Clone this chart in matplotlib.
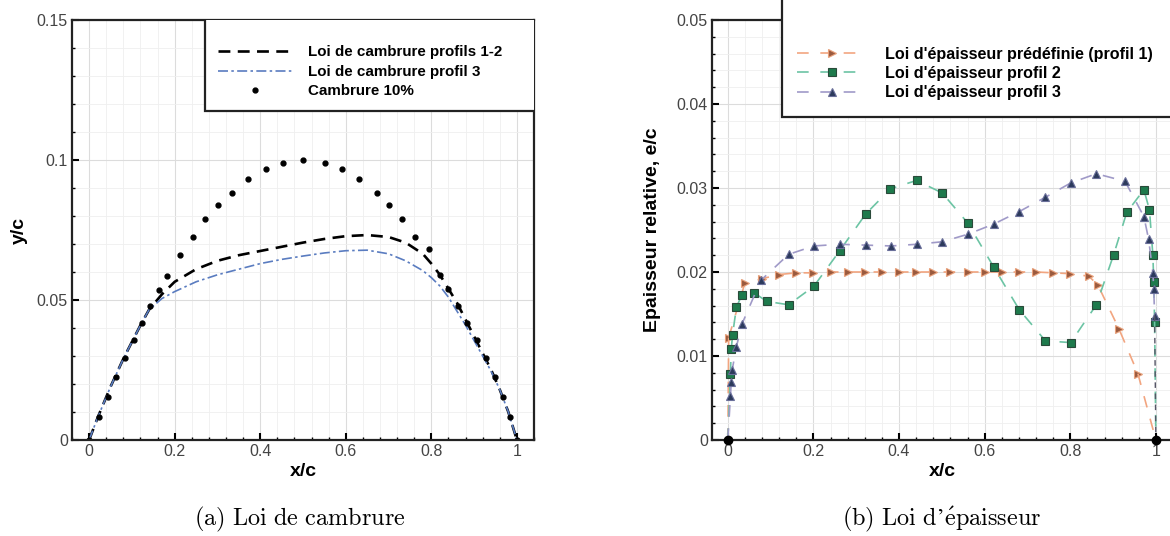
import matplotlib
matplotlib.use("Agg")
import matplotlib.pyplot as plt
from matplotlib.ticker import MultipleLocator, FuncFormatter
from matplotlib.patches import Rectangle

plt.rcParams['font.family'] = ['Liberation Sans', 'DejaVu Sans']
plt.rcParams['mathtext.fontset'] = 'cm'

# ---- (a) loi de cambrure ----
x_camb = [0, 0.02, 0.05, 0.08, 0.10, 0.12, 0.14, 0.17, 0.20, 0.25, 0.30, 0.35, 0.40, 0.45,
          0.50, 0.55, 0.60, 0.65, 0.70, 0.74, 0.78, 0.80, 0.82, 0.84, 0.86, 0.88, 0.90,
          0.92, 0.94, 0.96, 0.98, 1.0]
y_camb12 = [0, 0.008, 0.019, 0.029, 0.035, 0.041, 0.0465, 0.052, 0.0565, 0.061, 0.064, 0.066,
            0.0675, 0.069, 0.0705, 0.0718, 0.0728, 0.0732, 0.0725, 0.0705, 0.0665, 0.063,
            0.059, 0.054, 0.049, 0.043, 0.037, 0.031, 0.025, 0.018, 0.010, 0]
y_camb3 = [0, 0.008, 0.019, 0.029, 0.035, 0.041, 0.0465, 0.0505, 0.053, 0.0565, 0.059, 0.061,
           0.063, 0.0645, 0.0657, 0.0668, 0.0676, 0.0678, 0.0665, 0.064, 0.0605, 0.058,
           0.055, 0.051, 0.046, 0.041, 0.0355, 0.030, 0.0245, 0.018, 0.010, 0]

x_10 = [0, 0.022, 0.043, 0.063, 0.083, 0.104, 0.123, 0.143, 0.164, 0.183, 0.213, 0.242, 0.271,
        0.302, 0.333, 0.371, 0.413, 0.453, 0.501, 0.551, 0.591, 0.631, 0.672, 0.702, 0.732,
        0.762, 0.795, 0.820, 0.840, 0.863, 0.884, 0.906, 0.928, 0.949, 0.968, 0.984, 1.0]
y_10 = [0, 0.0081, 0.0155, 0.0226, 0.0294, 0.0357, 0.0419, 0.048, 0.0536, 0.0587, 0.0661,
        0.0726, 0.0788, 0.0839, 0.0883, 0.0931, 0.0967, 0.099, 0.100, 0.099, 0.0967, 0.0931,
        0.0883, 0.0839, 0.0788, 0.0726, 0.0681, 0.0589, 0.0538, 0.048, 0.0419, 0.0357,
        0.0294, 0.0226, 0.0155, 0.0081, 0]

# ---- (b) loi d'epaisseur ----
x_ep1 = [0.002, 0.04, 0.08, 0.12, 0.16, 0.20, 0.24, 0.28, 0.32, 0.36, 0.40, 0.44, 0.48, 0.52,
         0.56, 0.60, 0.64, 0.68, 0.72, 0.76, 0.80, 0.843, 0.864, 0.914, 0.958]
y_ep1 = [0.0122, 0.0187, 0.0192, 0.0197, 0.0199, 0.0199, 0.0200, 0.0200, 0.0200, 0.0200,
         0.0200, 0.0200, 0.0200, 0.0200, 0.0200, 0.0200, 0.0200, 0.0200, 0.0200, 0.0199,
         0.0198, 0.0195, 0.0185, 0.0132, 0.0079]

x_ep2 = [0.006, 0.008, 0.011, 0.020, 0.033, 0.062, 0.091, 0.142, 0.201, 0.261, 0.322, 0.380,
         0.441, 0.501, 0.561, 0.621, 0.681, 0.742, 0.801, 0.861, 0.901, 0.932, 0.972, 0.985,
         0.993, 0.995, 0.997]
y_ep2 = [0.0079, 0.0108, 0.0125, 0.0158, 0.0173, 0.0175, 0.0165, 0.0161, 0.0183, 0.0225,
         0.0269, 0.0299, 0.0309, 0.0294, 0.0258, 0.0206, 0.0155, 0.0118, 0.0116, 0.0161,
         0.0220, 0.0271, 0.0298, 0.0274, 0.0220, 0.0188, 0.0141]

x_ep3 = [0.006, 0.008, 0.010, 0.020, 0.033, 0.077, 0.142, 0.201, 0.261, 0.322, 0.382, 0.441,
         0.501, 0.561, 0.621, 0.681, 0.742, 0.801, 0.861, 0.928, 0.972, 0.983, 0.993, 0.995,
         0.997]
y_ep3 = [0.0052, 0.0069, 0.0083, 0.0111, 0.0138, 0.0190, 0.0221, 0.0231, 0.0233, 0.0232,
         0.0231, 0.0233, 0.0236, 0.0245, 0.0257, 0.0272, 0.0289, 0.0306, 0.0317, 0.0308,
         0.0266, 0.0239, 0.0199, 0.0180, 0.0148]

x_bords = [0, 1]
y_bords = [0, 0]

fig = plt.figure(figsize=(11.7, 5.36), dpi=100)
ax1 = fig.add_axes([72 / 1170, 96 / 536, 462 / 1170, 420 / 536])
ax2 = fig.add_axes([712 / 1170, 96 / 536, 461 / 1170, 420 / 536])

fmt = FuncFormatter(lambda v, p: '%g' % round(v, 4))


def style(ax, ymaj, ymin):
    ax.xaxis.set_major_locator(MultipleLocator(0.2))
    ax.xaxis.set_minor_locator(MultipleLocator(0.04))
    ax.yaxis.set_major_locator(MultipleLocator(ymaj))
    ax.yaxis.set_minor_locator(MultipleLocator(ymin))
    ax.xaxis.set_major_formatter(fmt)
    ax.yaxis.set_major_formatter(fmt)
    ax.grid(which='major', color='#dcdcdc', lw=0.8)
    ax.grid(which='minor', color='#efefef', lw=0.6)
    ax.set_axisbelow(True)
    ax.tick_params(which='both', direction='in', top=False, right=False,
                   labelsize=11.5, labelcolor='#444444', pad=3)
    ax.tick_params(which='major', length=5, width=1.5)
    ax.tick_params(which='minor', length=2.5, width=1)
    for s in ax.spines.values():
        s.set_linewidth(1.6)
        s.set_color('#222222')


# (a)
ax1.plot(x_camb, y_camb12, color='black', lw=1.9, dashes=(4.5, 2.8),
         label='Loi de cambrure profils 1-2')
ax1.plot(x_camb, y_camb3, color='#5a7cc0', lw=1.2, dashes=(6, 2, 1.5, 2),
         label='Loi de cambrure profil 3')
ax1.plot(x_10, y_10, 'o', color='black', ms=3.5, ls='none', label='Cambrure 10%')
ax1.set_xlim(-0.04, 1.04)
ax1.set_ylim(0, 0.15)
style(ax1, 0.05, 0.01)
ax1.set_xlabel('x/c', fontsize=14, fontweight='bold')
ax1.xaxis.set_label_coords(0.5, -0.055)
ax1.set_ylabel('y/c', fontsize=14, fontweight='bold')
ax1.yaxis.set_label_coords(-0.095, 0.5)
ax1.add_patch(Rectangle((0.288, 0.783), 0.72, 0.3, transform=ax1.transAxes,
                        fill=True, facecolor='white', edgecolor='#222222', lw=1.6, zorder=4))
leg1 = ax1.legend(loc='upper left', bbox_to_anchor=(0.316, 0.94), frameon=False,
                  prop={'weight': 'bold', 'size': 10.9}, handlelength=4.9,
                  handletextpad=1.05, labelspacing=0.37, borderpad=0, borderaxespad=0)
leg1.set_zorder(5)

# (b)
ax2.plot(x_ep1, y_ep1, ls=(0, (7, 7)), color='#f2a580', lw=1.2, marker='>', ms=6,
         mfc='#9a5a3e', mec='#e8a07a', mew=0.8, label="Loi d'épaisseur prédéfinie (profil 1)")
ax2.plot([0] + x_ep1[:1], [0] + y_ep1[:1], ls=(0, (7, 7)), color='#f2a580', lw=1.2)
ax2.plot(x_ep1[-1:] + [1], y_ep1[-1:] + [0], ls=(0, (7, 7)), color='#f2a580', lw=1.2)
ax2.plot(x_ep2, y_ep2, ls=(0, (7, 7)), color='#6cc4a4', lw=1.2, marker='s', ms=5.5,
         mfc='#1e7a4c', mec='#2a4a3a', mew=0.8, label="Loi d'épaisseur profil 2")
ax2.plot([0] + x_ep2[:1], [0] + y_ep2[:1], ls=(0, (7, 7)), color='#6cc4a4', lw=1.2)
ax2.plot(x_ep2[-1:] + [1], y_ep2[-1:] + [0], ls=(0, (7, 7)), color='#6cc4a4', lw=1.2)
ax2.plot(x_ep3, y_ep3, ls=(0, (7, 7)), color='#a09ac8', lw=1.2, marker='^', ms=6,
         mfc='#2c3a5c', mec='#6a6f9a', mew=0.8, label="Loi d'épaisseur profil 3")
ax2.plot([0] + x_ep3[:1], [0] + y_ep3[:1], ls=(0, (7, 7)), color='#a09ac8', lw=1.2)
ax2.plot(x_ep3[-1:] + [1], y_ep3[-1:] + [0], ls=(0, (4, 4)), color='#555566', lw=1.0)
ax2.plot(x_bords, y_bords, 'o', color='black', ms=6, ls='none', clip_on=False, zorder=6)
ax2.set_xlim(-0.037, 1.04)
ax2.set_ylim(0, 0.05)
style(ax2, 0.01, 0.002)
ax2.set_xlabel('x/c', fontsize=14, fontweight='bold')
ax2.xaxis.set_label_coords(0.5, -0.055)
ax2.set_ylabel('Epaisseur relative, e/c', fontsize=14, fontweight='bold')
ax2.yaxis.set_label_coords(-0.11, 0.5)
ax2.add_patch(Rectangle((0.152, 0.769), 0.9, 0.3, transform=ax2.transAxes,
                        fill=True, facecolor='white', edgecolor='#222222', lw=1.6, zorder=4,
                        clip_on=False))
leg2 = ax2.legend(loc='upper left', bbox_to_anchor=(0.184, 0.936), frameon=False,
                  prop={'weight': 'bold', 'size': 11.6}, handlelength=4.35,
                  handletextpad=1.1, labelspacing=0.26, borderpad=0, borderaxespad=0)
leg2.set_zorder(5)

fig.text(300 / 1170, 1 - 519 / 536, r'$\mathrm{(a)\ Loi\ de\ cambrure}$', ha='center',
         va='center', fontsize=17.5)
fig.text(942 / 1170, 1 - 519 / 536, r'$\mathrm{(b)\ Loi\ d’\acute{e}paisseur}$',
         ha='center', va='center', fontsize=17.5)

fig.savefig('out.png', dpi=100)
